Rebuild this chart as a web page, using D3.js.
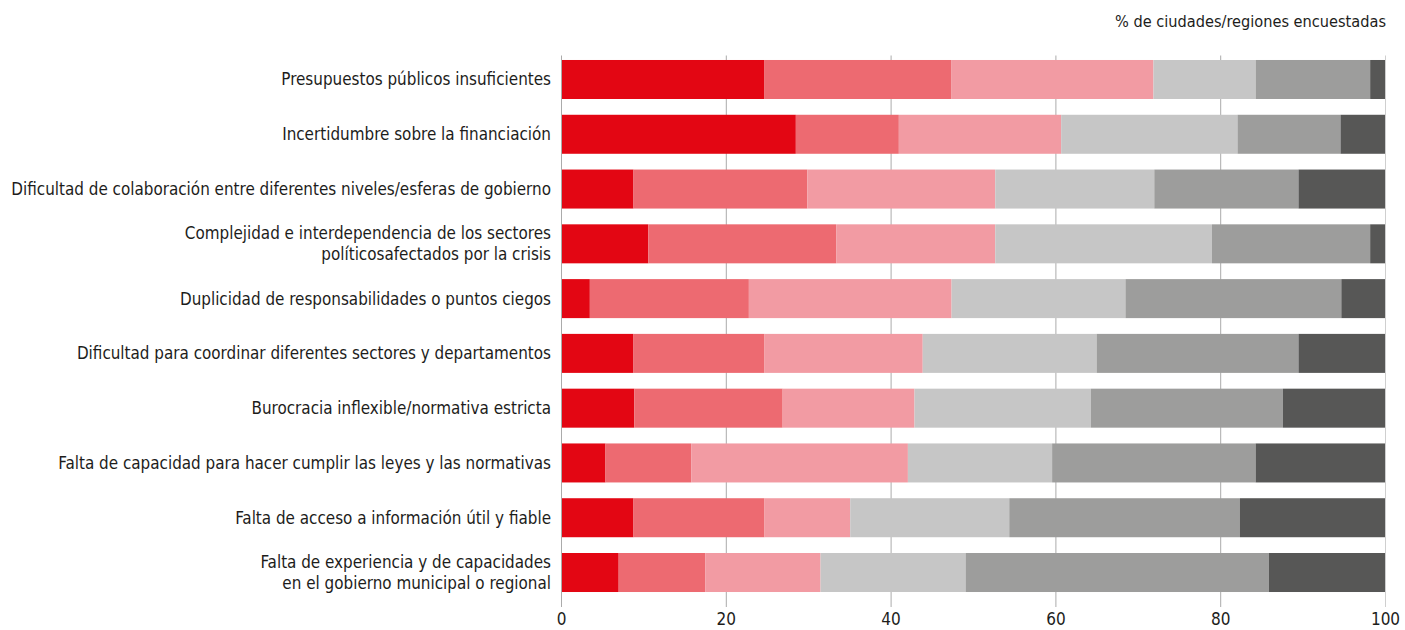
<!DOCTYPE html>
<html>
<head>
<meta charset="utf-8">
<script src="https://cdn.jsdelivr.net/npm/d3@7"></script>
<style>
  html, body { margin: 0; padding: 0; background: #fff; }
  svg { display: block; }
  text { font-family: "DejaVu Sans Condensed", "DejaVu Sans", sans-serif; fill: #1d1d1b; }
</style>
</head>
<body>
<svg id="chart" width="1405" height="630"></svg>
<script>
// Obstacles (one row each, top to bottom); "\n" splits a label over two lines
const categories = [
  "Presupuestos públicos insuficientes",
  "Incertidumbre sobre la financiación",
  "Dificultad de colaboración entre diferentes niveles/esferas de gobierno",
  "Complejidad e interdependencia de los sectores\npolíticosafectados por la crisis",
  "Duplicidad de responsabilidades o puntos ciegos",
  "Dificultad para coordinar diferentes sectores y departamentos",
  "Burocracia inflexible/normativa estricta",
  "Falta de capacidad para hacer cumplir las leyes y las normativas",
  "Falta de acceso a información útil y fiable",
  "Falta de experiencia y de capacidades\nen el gobierno municipal o regional"
];

// Share of surveyed cities/regions per rating level (most to least important)
const level1 = [24.7, 28.5,  8.8, 10.6,  3.5,  8.8,  8.9,  5.4,  8.8,  7.0];
const level2 = [22.7, 12.5, 21.1, 22.8, 19.3, 15.9, 18.0, 10.4, 15.9, 10.5];
const level3 = [24.5, 19.7, 22.8, 19.3, 24.6, 19.2, 16.0, 26.3, 10.4, 14.0];
const level4 = [12.4, 21.4, 19.3, 26.3, 21.1, 21.1, 21.4, 17.5, 19.3, 17.6];
const level5 = [13.9, 12.5, 17.5, 19.2, 26.2, 24.5, 23.3, 24.7, 28.0, 36.8];
const level6 = [ 1.8,  5.4, 10.5,  1.8,  5.3, 10.5, 12.4, 15.7, 17.6, 14.1];

const seriesKeys = ["l1", "l2", "l3", "l4", "l5", "l6"];
const seriesColors = ["#e30613", "#ed6a71", "#f29ba3", "#c6c6c6", "#9d9d9c", "#575756"];

const xTicks = [0, 20, 40, 60, 80, 100];
const unitLabel = "% de ciudades/regiones encuestadas";

const rows = categories.map((c, i) => ({
  cat: c,
  l1: level1[i], l2: level2[i], l3: level3[i],
  l4: level4[i], l5: level5[i], l6: level6[i]
}));

const svg = d3.select("#chart");

const x = d3.scaleLinear().domain([0, 100]).range([561, 1385]);
const y = d3.scaleBand()
  .domain(categories)
  .range([52.1, 599.9])
  .paddingInner(0.288)
  .paddingOuter(0.144);

// vertical gridlines
svg.append("g")
  .selectAll("line")
  .data(xTicks.filter(t => t > 0))
  .join("line")
  .attr("x1", d => x(d) + 0.5).attr("x2", d => x(d) + 0.5)
  .attr("y1", 55.5).attr("y2", 607)
  .attr("stroke", d => d === 100 ? "#cfcfcf" : "#ababab")
  .attr("stroke-width", 1);

// stacked bars
const stack = d3.stack().keys(seriesKeys);
const layers = stack(rows);

svg.append("g")
  .selectAll("g")
  .data(layers)
  .join("g")
  .attr("fill", (d, i) => seriesColors[i])
  .selectAll("rect")
  .data(d => d)
  .join("rect")
  .attr("x", d => x(d[0]))
  .attr("width", d => x(d[1]) - x(d[0]))
  .attr("y", d => y(d.data.cat))
  .attr("height", y.bandwidth());

// vertical axis line at 0
svg.append("line")
  .attr("x1", x(0) + 0.5).attr("x2", x(0) + 0.5)
  .attr("y1", 55.5).attr("y2", 607)
  .attr("stroke", "#ababab")
  .attr("stroke-width", 1);

// category labels
const labels = svg.append("g")
  .selectAll("text")
  .data(categories)
  .join("text")
  .attr("text-anchor", "end")
  .attr("font-size", 16.9)
  .attr("x", x(0) - 10)
  .attr("y", d => y(d) + y.bandwidth() / 2);

labels.each(function(d) {
  const lines = d.split("\n");
  const t = d3.select(this);
  const lh = 21;
  lines.forEach((ln, k) => {
    t.append("tspan")
      .attr("x", x(0) - 10)
      .attr("dy", k === 0 ? (-(lines.length - 1) * lh / 2 + 6) : lh)
      .text(ln);
  });
});

// bottom axis tick labels
const xAxis = d3.axisBottom(x).tickValues(xTicks).tickSize(0).tickPadding(0);
const gx = svg.append("g")
  .attr("transform", `translate(0, ${609})`)
  .call(xAxis);
gx.select(".domain").remove();
gx.selectAll("text")
  .attr("font-size", 17)
  .attr("dy", "0.95em")
  .style("font-family", "\"DejaVu Sans Condensed\", \"DejaVu Sans\", sans-serif")
  .attr("fill", "#1d1d1b");

// unit label top right
svg.append("text")
  .attr("x", 1386)
  .attr("y", 27)
  .attr("text-anchor", "end")
  .attr("font-size", 16.2)
  .text(unitLabel);
</script>
</body>
</html>
